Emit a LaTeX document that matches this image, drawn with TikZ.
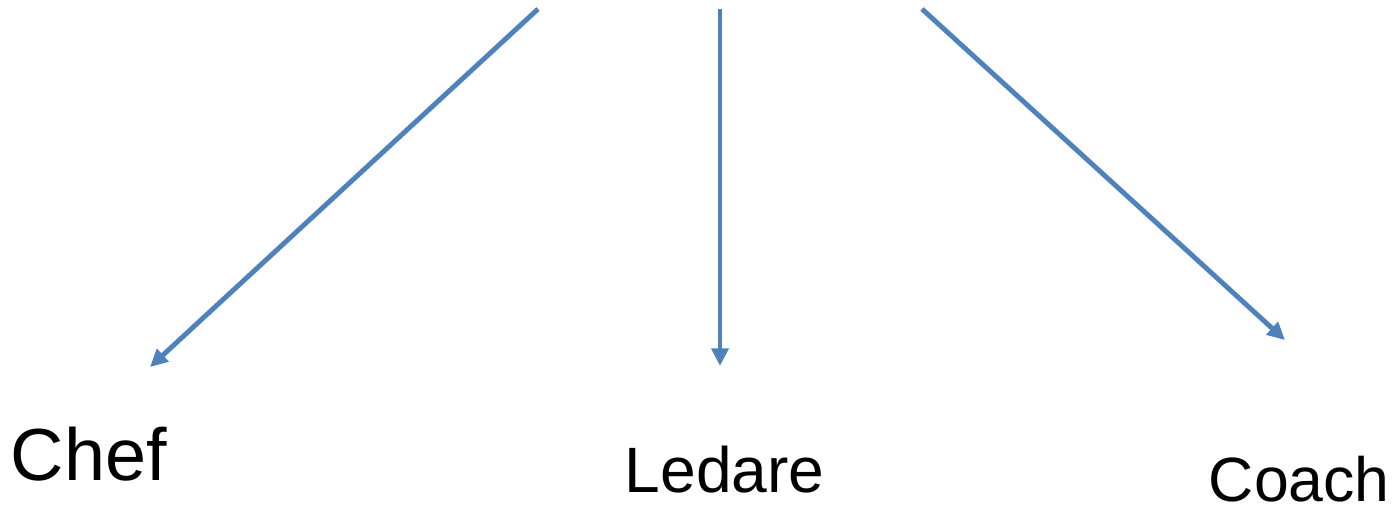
\documentclass[tikz,border=0pt]{standalone}
\usepackage{fontspec}
\setmainfont{Liberation Sans}
\usetikzlibrary{arrows.meta}
\definecolor{arrowblue}{RGB}{79,129,189}

\begin{document}
\begin{tikzpicture}[
	pil/.style = {draw=arrowblue, line width = 2.8pt, -{Triangle[length=10pt,width=9.5pt]}},
	ord/.style = {anchor=base west, inner sep=0pt, text depth=0pt, text=black}
	]
	\useasboundingbox (0,0) rectangle (27.94,-10.12);
	
	\coordinate (startChef) at (10.76,-0.18);
	\coordinate (startLedare) at (14.40,-0.18);
	\coordinate (startCoach) at (18.44,-0.18);
	
	\coordinate (slutChef) at (3.00,-7.34);
	\coordinate (slutLedare) at (14.40,-7.32);
	\coordinate (slutCoach) at (25.70,-6.80);
	
	\draw[pil] (startChef) -- (slutChef);
	\draw[pil] (startLedare) -- (slutLedare);
	\draw[pil] (startCoach) -- (slutCoach);
	
	\node[ord] (chef) at (0.21,-9.60) {\fontsize{42}{50}\selectfont Chef};
	\node[ord] (ledare) at (12.49,-9.84) {\fontsize{36.5}{44}\selectfont Ledare};
	\node[ord] (coach) at (24.17,-10.02) {\fontsize{35.6}{43}\selectfont Coach};
	
	%\node at (14.4,-5) {};
\end{tikzpicture}
\end{document}
